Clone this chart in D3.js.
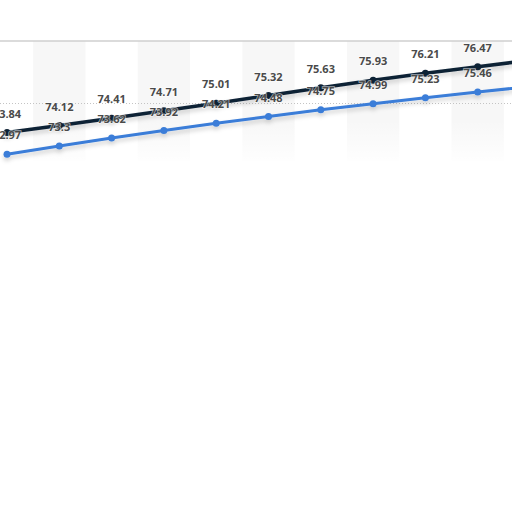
<html>
<head>
<style>
  body { margin: 0; background: #fff; }
  .label { font-family: "Open Sans", sans-serif; font-size: 11px; font-weight: 700; fill: #4a4a4a; }
</style>
</head>
<body>
<svg id="chart" width="512" height="512"></svg>
<script src="https://cdn.jsdelivr.net/npm/d3@7"></script>
<script>
  // data (last point is past the right edge)
  const years = ["2014", "2015", "2016", "2017", "2018", "2019", "2020", "2021", "2022", "2023", "2024"]
  const darkValues = [73.84, 74.12, 74.41, 74.71, 75.01, 75.32, 75.63, 75.93, 76.21, 76.47, 76.73]
  const blueValues = [72.97, 73.3, 73.62, 73.92, 74.21, 74.48, 74.75, 74.99, 75.23, 75.46, 75.68]
  const gridValues = [75]
  const showLabels = 10 // labels visible in the crop

  const svg = d3.select("#chart")

  // one step is ~52.3px, first point sits at x = 7
  let x = d3.scalePoint()
    .domain(years)
    .range([7, 7 + 52.3 * (years.length - 1)])
  let step = x.step()

  let y = d3.scaleLinear()
    .domain([72.5, 77.5])
    .range([166, 41])

  let defs = svg.append("defs")
  let f = defs.append("filter").attr("id", "shadow")
    .attr("x", "-10%").attr("y", "-50%").attr("width", "120%").attr("height", "200%")
  f.append("feDropShadow")
    .attr("dx", 0).attr("dy", 3).attr("stdDeviation", 2)
    .attr("flood-color", "#000").attr("flood-opacity", 0.18)

  // alternating column bands
  svg.selectAll("rect.band")
    .data(years.filter((d, i) => i % 2 == 1))
    .enter()
    .append("rect")
    .attr("class", "band")
    .attr("x", d => x(d) - step / 2)
    .attr("y", y(77.5))
    .attr("width", step)
    .attr("height", 120)
    .attr("fill", "#f7f7f7")

  // fade bands out towards the bottom
  let grad = defs.append("linearGradient").attr("id", "fade")
    .attr("x1", 0).attr("y1", 0).attr("x2", 0).attr("y2", 1)
  grad.append("stop").attr("offset", "0%").attr("stop-color", "#fff").attr("stop-opacity", 0)
  grad.append("stop").attr("offset", "100%").attr("stop-color", "#fff").attr("stop-opacity", 1)
  svg.append("rect")
    .attr("x", 0).attr("y", 120).attr("width", 512).attr("height", 45)
    .attr("fill", "url(#fade)")

  // top border
  svg.append("line")
    .attr("x1", 0).attr("x2", 512)
    .attr("y1", y(77.5)).attr("y2", y(77.5))
    .attr("stroke", "#cfcfcf")
    .attr("stroke-width", 1.5)

  // dotted grid line
  svg.selectAll("line.grid")
    .data(gridValues)
    .enter()
    .append("line")
    .attr("class", "grid")
    .attr("x1", 0).attr("x2", 512)
    .attr("y1", d => y(d)).attr("y2", d => y(d))
    .attr("stroke", "#c4c4c4")
    .attr("stroke-dasharray", "1,2")

  let series = [
    { name: "blue", values: blueValues, color: "#3b7dd8", width: 3 },
    { name: "dark", values: darkValues, color: "#0f2236", width: 3.5 }
  ]

  let line = d3.line()
    .x((d, i) => x(years[i]))
    .y(d => y(d))

  series.forEach(s => {
    let g = svg.append("g").attr("filter", "url(#shadow)")
    g.append("path")
      .attr("d", line(s.values))
      .attr("fill", "none")
      .attr("stroke", s.color)
      .attr("stroke-width", s.width)
      .attr("stroke-linejoin", "round")
    g.selectAll("circle")
      .data(s.values)
      .enter()
      .append("circle")
      .attr("cx", (d, i) => x(years[i]))
      .attr("cy", d => y(d))
      .attr("r", 3.5)
      .attr("fill", s.color)
  })

  // value labels
  series.forEach(s => {
    svg.selectAll("text.l-" + s.name)
      .data(s.values.slice(0, showLabels))
      .enter()
      .append("text")
      .attr("class", "label")
      .attr("x", (d, i) => x(years[i]))
      .attr("y", d => y(d) - 15)
      .attr("text-anchor", "middle")
      .attr("stroke", "#fff")
      .attr("stroke-width", 1.5)
      .attr("stroke-opacity", 0.6)
      .attr("paint-order", "stroke")
      .text(d => d)
  })
</script>
</body>
</html>
